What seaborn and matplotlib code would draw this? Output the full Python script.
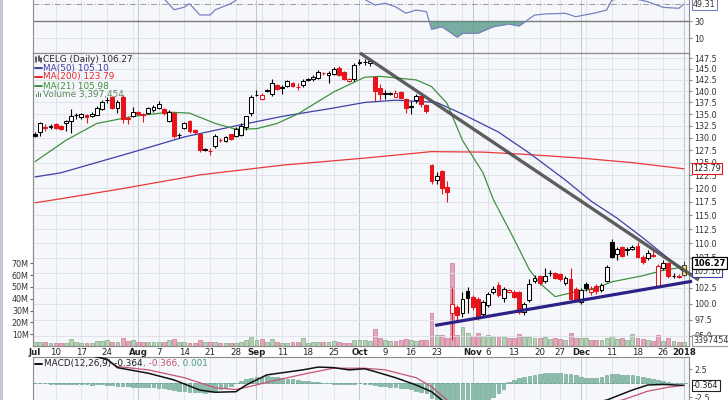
import numpy as np
import pandas as pd
import seaborn as sns
import matplotlib.pyplot as plt
from matplotlib.lines import Line2D
from matplotlib.patches import Rectangle
from matplotlib.ticker import NullLocator

sns.set_style("white")
plt.rcParams['font.family'] = ['DejaVu Sans']

W, H = 728, 400

# CELG daily candles, Jul 3 2017 .. Jan 2 2018 (trading day index 0..126)
opens = [130.9, 131.2, 132.3, 132.2, 132.8, 132.5, 133.0, 133.6, 134.8, 134.3,
         134.7, 134.5, 134.9, 136.0, 138.0, 138.7, 136.4, 138.7, 134.2, 134.5,
         135.5, 135.0, 135.3, 135.8, 136.4, 136.0, 133.6, 135.3, 130.5, 132.0,
         133.6, 131.6, 130.8, 127.5, 127.4, 128.3, 129.6, 129.4, 130.7, 130.4,
         130.6, 132.2, 135.3, 139.1, 138.2, 140.1, 139.3, 141.4, 140.7, 141.1,
         141.8, 141.0, 141.4, 142.5, 142.6, 143.0, 144.1, 143.6, 143.9, 145.1,
         144.3, 142.3, 142.6, 146.4, 146.5, 146.3, 143.1, 140.7, 139.4, 139.4,
         138.8, 139.9, 138.3, 136.6, 138.1, 138.9, 137.0, 124.5, 121.6, 123.4,
         120.3, 98.5, 99.5, 98.5, 102.0, 101.0, 100.8, 98.4, 99.7, 101.8,
         103.0, 100.9, 101.9, 101.9, 101.8, 98.6, 100.6, 103.6, 104.5, 103.6,
         104.9, 105.0, 104.8, 103.3, 103.9, 102.4, 100.3, 103.1, 101.9, 102.8,
         102.1, 103.6, 110.2, 108.2, 109.3, 108.9, 109.1, 109.5, 107.7, 107.4,
         108.0, 102.8, 105.8, 106.6, 104.4, 104.5, 104.7]
highs = [131.2, 133.4, 132.8, 132.8, 133.0, 132.7, 133.8, 136.0, 135.2, 135.3,
         135.0, 135.5, 136.8, 138.0, 138.8, 139.0, 138.0, 139.2, 134.5, 136.6,
         135.7, 135.3, 136.6, 136.9, 137.9, 136.2, 135.8, 135.5, 131.0, 133.4,
         133.8, 131.9, 131.0, 128.0, 127.9, 130.9, 129.9, 130.4, 130.9, 132.3,
         133.0, 134.6, 139.2, 140.2, 139.5, 140.4, 142.8, 141.6, 141.3, 142.5,
         142.0, 141.9, 142.6, 143.0, 143.5, 144.7, 144.4, 144.5, 145.5, 145.6,
         144.5, 143.0, 146.3, 147.3, 147.2, 147.1, 143.3, 141.5, 140.2, 139.9,
         140.2, 140.0, 138.5, 137.8, 139.4, 139.1, 137.2, 124.7, 123.2, 123.6,
         121.4, 102.6, 99.8, 101.9, 102.6, 101.3, 101.0, 100.6, 101.9, 102.8,
         103.5, 102.6, 102.4, 102.2, 102.0, 100.3, 103.9, 104.6, 104.7, 105.8,
         105.4, 105.2, 105.0, 104.4, 105.8, 102.6, 102.5, 103.4, 102.9, 103.2,
         103.3, 106.3, 110.7, 109.4, 109.5, 109.3, 109.8, 110.3, 108.0, 108.8,
         108.8, 106.4, 107.2, 106.8, 104.9, 104.8, 107.0]
lows = [130.2, 130.4, 131.4, 131.8, 131.8, 131.6, 131.5, 131.0, 134.0, 134.0,
        133.0, 134.3, 134.7, 135.8, 137.3, 136.0, 135.3, 133.0, 132.9, 134.3,
        134.8, 133.4, 135.0, 135.5, 136.0, 134.9, 133.3, 130.0, 130.0, 131.8,
        131.0, 130.9, 127.2, 127.3, 126.6, 128.0, 129.2, 129.2, 129.6, 130.2,
        130.3, 131.7, 134.6, 138.9, 138.0, 139.8, 139.0, 140.2, 139.3, 140.8,
        140.9, 140.3, 141.0, 142.2, 142.3, 142.8, 143.5, 141.9, 143.7, 143.3,
        142.5, 142.0, 142.3, 146.0, 146.0, 145.6, 137.8, 138.0, 138.3, 139.2,
        138.6, 138.2, 135.3, 135.0, 137.3, 136.6, 135.2, 120.8, 120.8, 118.9,
        117.4, 94.4, 97.4, 97.9, 98.5, 99.0, 97.5, 98.0, 99.4, 101.5,
        101.0, 100.2, 101.7, 100.9, 98.3, 98.2, 100.3, 103.3, 103.0, 103.3,
        104.5, 103.9, 103.6, 103.0, 100.5, 100.3, 100.0, 102.0, 101.4, 101.6,
        101.8, 103.4, 107.5, 107.2, 107.6, 108.0, 108.8, 107.4, 106.5, 107.2,
        107.6, 102.7, 105.5, 104.2, 104.1, 104.1, 104.5]
closes = [130.4, 133.2, 132.1, 132.4, 132.0, 131.9, 133.5, 134.5, 134.9, 135.0,
          134.3, 135.1, 136.4, 137.7, 138.1, 136.4, 137.6, 134.0, 133.9, 135.5,
          135.1, 134.9, 136.3, 136.6, 137.2, 135.3, 135.5, 130.4, 130.6, 133.2,
          131.4, 131.2, 127.5, 127.7, 127.3, 130.4, 129.5, 130.1, 129.8, 131.8,
          132.4, 134.5, 138.7, 139.2, 139.1, 140.2, 141.8, 140.5, 141.0, 142.2,
          141.1, 140.9, 142.3, 142.6, 143.1, 144.3, 144.0, 144.1, 144.9, 143.6,
          142.8, 142.7, 145.9, 146.6, 146.7, 146.8, 140.0, 139.3, 139.5, 139.6,
          139.5, 138.4, 136.3, 136.8, 139.0, 137.2, 135.6, 121.4, 122.3, 120.0,
          119.4, 100.0, 98.2, 100.8, 100.9, 99.5, 97.9, 100.3, 101.5, 102.3,
          101.4, 102.3, 102.2, 101.1, 98.6, 100.0, 103.2, 104.2, 103.3, 104.5,
          105.0, 104.2, 104.0, 104.1, 100.8, 100.6, 102.2, 102.5, 102.4, 102.0,
          103.0, 106.0, 107.7, 109.0, 107.9, 109.0, 109.3, 107.7, 106.8, 108.4,
          107.9, 106.1, 106.7, 104.4, 104.5, 104.36, 106.27]
volume_m = [3.0, 3.7, 3.7, 2.8, 2.8, 2.8, 2.8, 5.6, 3.7, 2.8,
            2.3, 2.8, 4.5, 4.5, 5.1, 3.7, 3.7, 6.5, 4.5, 5.1,
            3.7, 3.7, 3.7, 3.7, 3.7, 3.7, 5.1, 5.6, 3.7, 3.7,
            2.8, 2.8, 5.1, 3.7, 3.7, 3.7, 2.8, 2.8, 2.8, 2.8,
            3.7, 5.1, 7.3, 5.1, 5.6, 3.7, 5.6, 3.7, 2.8, 2.8,
            3.7, 3.7, 6.5, 2.8, 3.7, 3.7, 3.7, 3.7, 4.5, 3.7,
            2.8, 2.8, 5.1, 5.1, 5.1, 4.0, 14, 7, 5, 4,
            4.5, 5, 6, 5, 4.5, 5, 5.5, 28, 9, 9,
            7, 70, 9.3, 16, 10.7, 8.5, 10.7, 8.5, 9.3, 7.3,
            7.9, 7.3, 6.5, 6.5, 10, 7.3, 7.9, 6.5, 6.5, 7.3,
            5.6, 6.5, 6.0, 5.0, 10.7, 6.5, 7.0, 6.5, 5.5, 5.5,
            5.0, 6.5, 8.5, 6.0, 6.5, 5.0, 10.0, 7.0, 6.0, 5.0,
            4.5, 9.5, 4.0, 6.5, 4.0, 3.5, 3.4]

# moving averages (day index, value)
ma50_idx = [0, 5, 19, 29, 39, 48, 58, 64, 70, 78, 83, 90, 96, 103, 108, 113, 118, 123, 126]
ma50_val = [122.2, 123.0, 127.1, 130.2, 132.5, 134.5, 136.3, 137.5, 138.0, 137.5, 135.0,
            131.2, 126.9, 121.6, 117.6, 114.5, 111.0, 107.4, 105.1]
ma200_idx = [0, 4, 16, 32, 48, 64, 77, 87, 96, 106, 116, 126]
ma200_val = [117.3, 117.9, 119.8, 122.6, 124.5, 125.9, 127.2, 127.1, 126.6, 125.9, 125.0, 123.79]
ma21_idx = [0, 6, 12, 19, 26, 30, 35, 39, 43, 47, 51, 58, 64, 67, 74, 77, 80, 83, 87, 89,
            93, 96, 98, 101, 104, 109, 112, 118, 122, 126]
ma21_val = [125.2, 129.5, 133.0, 134.5, 135.4, 135.2, 133.0, 131.8, 131.9, 133.0, 135.0,
            139.8, 143.1, 143.3, 142.5, 141.0, 137.3, 129.5, 123.0, 117.9, 110.8, 105.5,
            103.3, 101.1, 101.7, 102.5, 103.5, 104.5, 105.4, 105.98]

# hand-drawn trendlines (day index, price)
down_trend_x = [63.1, 128.9]
down_trend_y = [148.7, 103.8]
up_trend_x = [77.7, 127.6]
up_trend_y = [96.6, 103.6]

rsi_idx = [0, 10, 20, 25, 27, 29, 30, 32, 34, 35, 38, 40, 50, 60, 64, 66, 68, 70, 72, 74,
           76, 77, 79, 82, 83, 86, 89, 92, 94, 97, 99, 103, 105, 109, 111, 112, 115, 119,
           122, 125, 126]
rsi_val = [60, 62, 58, 56, 43, 46, 50, 37, 37, 43, 50, 58, 65, 66, 55, 48.5, 50.5, 46.5,
           39, 42.7, 40.8, 20.4, 23.4, 11.2, 15.8, 15.8, 23.4, 26.5, 24.2, 36.9, 38.1,
           38.9, 35, 39.6, 42.7, 54, 58, 52.3, 45.8, 44.7, 49.31]

macd_idx = [0, 10, 14, 16, 22, 27, 32, 35, 39, 41, 45, 52, 55, 58, 61, 64, 66, 70, 74, 77,
            79, 82, 88, 96, 104, 111, 116, 119, 122, 126]
macd_val = [5.6, 5.1, 4.3, 2.8, 1.8, 0.6, -1.2, -1.6, -1.5, -0.3, 1.5, 2.4, 2.9, 2.8, 2.4,
            2.6, 2.1, 1.0, -0.3, -1.5, -3.0, -5.0, -6.2, -5.6, -4.2, -3.0, -1.2, -0.3, -0.2,
            -0.364]
signal_idx = [0, 10, 14, 16, 22, 29, 35, 39, 42, 47, 53, 58, 64, 68, 74, 77, 80, 90, 100,
              110, 114, 119, 123, 126]
signal_val = [5.8, 5.3, 4.2, 3.0, 2.4, 1.0, -0.8, -1.1, -0.5, 0.6, 1.8, 2.7, 2.7, 2.4, 1.0,
              -0.6, -3.0, -5.5, -5.0, -3.6, -3.0, -1.4, -0.7, -0.366]
macd_hist = [0.1, 0.1, 0.0, -0.1, -0.1, -0.1,
             -0.1, -0.2, -0.2, -0.2, -0.2, -0.3, -0.2, -0.2, -0.3, -0.3,
             -0.4, -0.5, -0.5, -0.6, -0.6, -0.7, -0.6, -0.7, -0.8, -0.9, -1.0,
             -1.2, -1.3, -1.4, -1.5, -1.6, -1.6, -1.7,
             -1.5, -1.3, -1.0, -0.8, -0.5,
             0.1, 0.4, 0.7, 0.9, 1.1, 1.2, 1.3,
             1.2, 1.1, 0.9, 0.8, 0.7, 0.6, 0.5, 0.4, 0.3,
             0.2, 0.1, 0.0, -0.1, -0.2, -0.2, -0.1, -0.1, 0.0,
             -0.1, -0.2, -0.3,
             -0.4, -0.5, -0.6, -0.7, -0.8, -0.9,
             -1.1, -1.3, -1.5, -1.8,
             -2.6, -3.2, -3.6, -4.0,
             -4.3, -4.2, -4.0, -3.8, -3.6, -3.4, -3.2,
             -2.9, -2.5, -1.8, -1.0,
             0.3, 0.6, 0.9, 1.1,
             1.3, 1.5, 1.7, 1.9, 1.9, 1.9,
             1.8, 1.7, 1.6, 1.4, 1.2, 1.0, 0.9,
             1.0, 1.2, 1.4, 1.6, 1.6,
             1.5, 1.5, 1.4, 1.3, 1.1, 1.0,
             0.8, 0.6, 0.4, 0.3, 0.1, 0.0, 0.0]

# date axis
date_ticks = [0, 4, 9, 14, 20, 24, 29, 34, 39, 43, 48, 53, 58, 63, 68, 73, 78, 85, 88, 93,
              98, 102, 106, 112, 117, 122, 126]
date_labels = ['Jul', '10', '17', '24', 'Aug', '7', '14', '21', '28', 'Sep', '11', '18',
               '25', 'Oct', '9', '16', '23', 'Nov', '6', '13', '20', '27', 'Dec', '11',
               '18', '26', '2018']
week_lines = [4, 9, 14, 19, 24, 29, 34, 39, 44, 48, 53, 58, 68, 73, 78, 83, 88, 93, 98,
              102, 107, 112, 117, 122]
month_lines = [20, 43, 63, 85, 106, 126]

BG = '#f6f7fb'
GRID = '#dde0e8'
MGRID = '#c3c7d0'
SPINE = '#8c8c8c'
RED = '#e8141c'

df = pd.DataFrame({'o': opens, 'h': highs, 'l': lows, 'c': closes, 'v': volume_m})
df['i'] = np.arange(len(df))
df['prev'] = df['c'].shift(1).fillna(df['c'].iloc[0])
df['up'] = df['c'] >= df['prev']


def box(x0, y0, x1, y1):
    return [x0 / W, 1 - y1 / H, (x1 - x0) / W, (y1 - y0) / H]


def fpt(x, y):
    return x / W, 1 - y / H


fig = plt.figure(figsize=(W / 100, H / 100), dpi=100)
fig.patch.set_facecolor('white')
fig.add_artist(Rectangle((0, 0), 2.5 / W, 1, transform=fig.transFigure,
                         facecolor='#c4c8d2', edgecolor='none'))

ax_rsi = fig.add_axes(box(33, 0, 689, 53))
ax_vol = fig.add_axes(box(33, 53, 689, 346))
ax_px = ax_vol.twinx()
ax_macd = fig.add_axes(box(33, 357, 689, 400))

x_lo, x_hi = -0.4, 127.0
for ax in (ax_rsi, ax_vol, ax_macd):
    ax.set_facecolor(BG)
    for w in week_lines:
        ax.axvline(w, color=GRID, lw=0.6, zorder=0)
    for m in month_lines:
        ax.axvline(m, color=MGRID, lw=0.7, zorder=0)
for ax in (ax_rsi, ax_vol, ax_px, ax_macd):
    ax.set_xlim(x_lo, x_hi)
    for s in ax.spines.values():
        s.set_color(SPINE)
        s.set_linewidth(0.8)

# ---- volume (base axis) ----
vface = np.where(df['up'], '#b4d1b4', '#e3a7b9')
vedge = np.where(df['up'], '#86aa86', '#c77a93')
ax_vol.bar(df['i'], df['v'], width=0.75, color=vface, edgecolor=vedge, linewidth=0.5, zorder=2)
ax_vol.set_ylim(0, 248)
ax_vol.set_yticks([10, 20, 30, 40, 50, 60, 70])
ax_vol.set_yticklabels([f'{v}M' for v in [10, 20, 30, 40, 50, 60, 70]])
ax_vol.tick_params(axis='y', left=True, length=2, pad=1, labelsize=5.8, colors='#333',
                   color='#666')
ax_vol.set_xticks(date_ticks)
ax_vol.set_xticklabels(date_labels)
ax_vol.tick_params(axis='x', length=0, pad=1.5, labelsize=6.2, colors='#222')
for lab in ax_vol.get_xticklabels():
    if not lab.get_text().isdigit() or lab.get_text() == '2018':
        lab.set_fontweight('bold')

# ---- price (log, on top) ----
ax_px.set_yscale('log')
ax_px.set_ylim(93.5, 148.7)
pticks = np.arange(95, 148, 2.5)
ax_px.set_yticks(pticks)
ax_px.set_yticklabels([f'{t:.1f}' for t in pticks])
ax_px.yaxis.set_minor_locator(NullLocator())
ax_px.tick_params(axis='y', right=True, length=2, pad=2, labelsize=5.8, colors='#333',
                  color='#888')
ax_px.grid(axis='y', color=GRID, lw=0.6)
ax_px.set_axisbelow(True)

edge = np.where(df['up'], 'black', RED)
filled = df['c'] < df['o']
face = np.where(filled, edge, 'white')
face[-1] = '#f3e35c'
edge[-1] = '#444444'
lo = np.minimum(df['o'], df['c'])
body = np.maximum(np.abs(df['c'] - df['o']), 0.06)
ax_px.vlines(df['i'], df['l'], df['h'], colors=edge, lw=0.8, zorder=3)
ax_px.bar(df['i'], body, bottom=lo, width=0.74, color=face, edgecolor=edge, linewidth=0.75,
          zorder=4)

sns.lineplot(x=ma200_idx, y=ma200_val, ax=ax_px, color='#e8383a', lw=0.9, zorder=2)
sns.lineplot(x=ma50_idx, y=ma50_val, ax=ax_px, color='#3d3fa6', lw=0.9, zorder=2)
sns.lineplot(x=ma21_idx, y=ma21_val, ax=ax_px, color='#3f913f', lw=0.9, zorder=2)
ax_px.plot(down_trend_x, down_trend_y, color='#4d4d4d', lw=2.4, alpha=0.9,
           solid_capstyle='butt', clip_on=False, zorder=6)
ax_px.plot(up_trend_x, up_trend_y, color='#2c2185', lw=2.3, solid_capstyle='butt',
           clip_on=False, zorder=6)
ax_px.set_xlim(x_lo, x_hi)
ax_px.set_ylim(93.5, 148.7)
ax_px.set_xlabel('')
ax_px.set_ylabel('')

# value boxes on the right
ytr = ax_px.get_yaxis_transform()
ax_px.text(1.006, 123.79, '123.79', transform=ytr, fontsize=5.8, color='#222', va='center',
           ha='left', bbox=dict(boxstyle='square,pad=0.15', fc='white', ec=RED, lw=0.8),
           zorder=10)
ax_px.text(1.006, 105.2, '105.10', transform=ytr, fontsize=5.8, color='#333', va='center',
           ha='left', bbox=dict(boxstyle='square,pad=0.15', fc='white', ec='#3d3fa6', lw=0.8),
           zorder=10, clip_on=False)
ax_px.text(1.006, 106.6, '106.27', transform=ytr, fontsize=6, color='black', va='center',
           ha='left', fontweight='bold',
           bbox=dict(boxstyle='square,pad=0.15', fc='white', ec='black', lw=0.9),
           zorder=11, clip_on=False)
ax_px.text(1.006, 0.018, '3397454', transform=ax_px.transAxes, fontsize=5.8, color='#333',
           va='center', ha='left',
           bbox=dict(boxstyle='square,pad=0.15', fc='white', ec='#999', lw=0.8), zorder=11,
           clip_on=False)

# ---- RSI strip ----
ax_rsi.set_ylim(-7, 54.3)
ax_rsi.axhline(10, color=GRID, lw=0.6, zorder=0)
ax_rsi.axhline(50, color='#9a9a9a', lw=0.7, ls=(0, (6, 2, 1, 2)), zorder=1)
ax_rsi.axhline(30, color='#7a7a7a', lw=1.0, zorder=1)
ax_rsi.fill_between(rsi_idx, rsi_val, 30, where=np.array(rsi_val) < 30, interpolate=True,
                    color='#4f9484', alpha=0.75, lw=0, zorder=2)
sns.lineplot(x=rsi_idx, y=rsi_val, ax=ax_rsi, color='#7682bf', lw=0.9, zorder=3)
ax_rsi.set_xlim(x_lo, x_hi)
ax_rsi.set_xlabel('')
ax_rsi.set_ylabel('')
ax_rsi.set_xticks([])
ax_rsi.yaxis.tick_right()
ax_rsi.set_yticks([10, 30])
ax_rsi.tick_params(axis='y', length=2, pad=2, labelsize=5.8, colors='#333', color='#888')
ax_rsi.spines['top'].set_visible(False)
ax_rsi.spines['bottom'].set_color('#808080')
ax_rsi.text(1.006, 49.31, '49.31', transform=ax_rsi.get_yaxis_transform(), fontsize=5.8,
            color='#333', va='center', ha='left',
            bbox=dict(boxstyle='square,pad=0.15', fc='white', ec='#7682bf', lw=0.8))

# ---- MACD ----
ax_macd.set_ylim(-2.98, 4.7)
ax_macd.axhline(0, color='#7fae9f', lw=0.7, ls=(0, (3, 2)), zorder=1)
ax_macd.bar(np.arange(len(macd_hist)), macd_hist, width=0.72, color='#8cbcab',
            edgecolor='#5f9c88', linewidth=0.4, zorder=2)
sns.lineplot(x=signal_idx, y=signal_val, ax=ax_macd, color='#c75474', lw=0.9, zorder=3)
sns.lineplot(x=macd_idx, y=macd_val, ax=ax_macd, color='#111111', lw=1.1, zorder=4)
ax_macd.set_xlim(x_lo, x_hi)
ax_macd.set_ylim(-2.98, 4.7)
ax_macd.set_xlabel('')
ax_macd.set_ylabel('')
ax_macd.set_xticks([])
ax_macd.yaxis.tick_right()
ax_macd.set_yticks([2.5, -2.5])
ax_macd.set_yticklabels(['2.5', '-2.5'])
ax_macd.tick_params(axis='y', length=2, pad=2, labelsize=5.8, colors='#333', color='#888')
ax_macd.spines['bottom'].set_visible(False)
ax_macd.text(1.006, -0.364, '-0.364', transform=ax_macd.get_yaxis_transform(), fontsize=5.8,
             color='#222', va='center', ha='left',
             bbox=dict(boxstyle='square,pad=0.15', fc='white', ec='#222', lw=0.8))

# ---- legend text in the price panel ----
legend_rows = [
    ('CELG (Daily) 106.27', '#2a2a2a', 59),
    ('MA(50) 105.10', '#3d3fa6', 68),
    ('MA(200) 123.79', '#e0282c', 77),
    ('MA(21) 105.98', '#3f913f', 86),
    ('Volume 3,397,454', '#5e8a5e', 94.5),
]
for txt, col, yy in legend_rows:
    fig.text(*fpt(43, yy), txt, color=col, fontsize=6.4, va='center', ha='left', zorder=20)
for txt, col, yy in legend_rows[1:4]:
    fig.add_artist(Line2D([35 / W, 42 / W], [1 - yy / H] * 2, color=col, lw=1.4,
                          transform=fig.transFigure))
# little candle icon and volume icon
for dx, a, b in [(36, 57, 62), (38.5, 56, 61), (41, 58, 61.5)]:
    fig.add_artist(Line2D([dx / W] * 2, [1 - a / H, 1 - b / H], color='#333', lw=1.1,
                          transform=fig.transFigure))
for dx, hh in [(36, 3), (38, 5), (40, 4)]:
    fig.add_artist(Rectangle((dx / W, 1 - 97 / H), 1.4 / W, hh / H, transform=fig.transFigure,
                             facecolor='#5e8a5e', edgecolor='none'))

# MACD caption, coloured pieces laid end to end
fig.add_artist(Line2D([35 / W, 42 / W], [1 - 363.5 / H] * 2, color='#111', lw=1.4,
                      transform=fig.transFigure))
renderer = fig.canvas.get_renderer()
x_cur = 44
for txt, col in [('MACD(12,26,9) -0.364', '#222222'), (', -0.366', '#c75474'),
                 (', 0.001', '#4f9484')]:
    t = fig.text(*fpt(x_cur, 363.5), txt, color=col, fontsize=6.4, va='center', ha='left')
    x_cur = t.get_window_extent(renderer).x1

fig.savefig('out.png', dpi=100)
